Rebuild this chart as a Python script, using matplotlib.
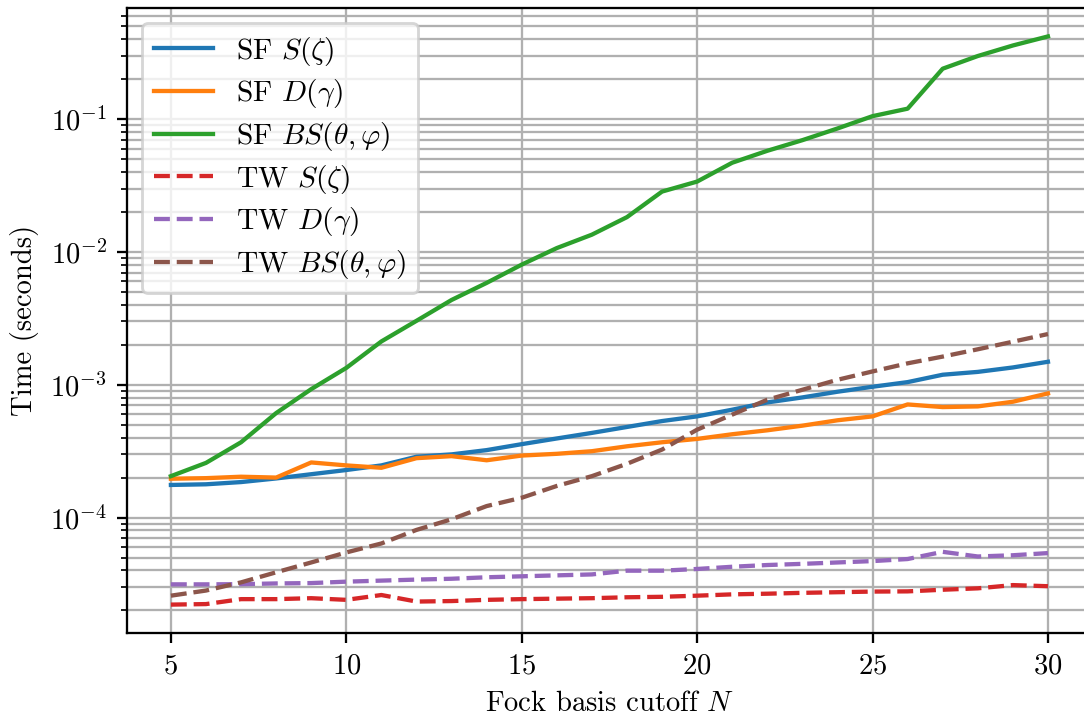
import matplotlib
matplotlib.use("Agg")
import matplotlib.pyplot as plt
import numpy as np

plt.rcParams["font.family"] = ["cmr10", "DejaVu Serif"]
plt.rcParams["mathtext.fontset"] = "cm"
plt.rcParams["axes.formatter.use_mathtext"] = True
plt.rcParams["font.size"] = 10

N = np.arange(5, 31)

sf_s = [1.76e-4, 1.78e-4, 1.85e-4, 1.97e-4, 2.12e-4, 2.28e-4, 2.47e-4, 2.87e-4, 2.99e-4,
        3.22e-4, 3.57e-4, 3.94e-4, 4.34e-4, 4.81e-4, 5.33e-4, 5.78e-4, 6.49e-4, 7.36e-4,
        8.03e-4, 8.86e-4, 9.66e-4, 1.047e-3, 1.19e-3, 1.25e-3, 1.35e-3, 1.49e-3]
sf_d = [1.96e-4, 1.98e-4, 2.03e-4, 2.00e-4, 2.60e-4, 2.47e-4, 2.37e-4, 2.80e-4, 2.90e-4,
        2.70e-4, 2.93e-4, 3.02e-4, 3.16e-4, 3.44e-4, 3.69e-4, 3.91e-4, 4.24e-4, 4.54e-4,
        4.92e-4, 5.40e-4, 5.78e-4, 7.11e-4, 6.79e-4, 6.87e-4, 7.45e-4, 8.61e-4]
sf_bs = [2.05e-4, 2.58e-4, 3.69e-4, 6.12e-4, 9.27e-4, 1.34e-3, 2.12e-3, 3.03e-3, 4.35e-3,
         5.85e-3, 8.03e-3, 1.07e-2, 1.35e-2, 1.83e-2, 2.85e-2, 3.39e-2, 4.70e-2, 5.78e-2,
         6.95e-2, 8.51e-2, 0.1054, 0.120, 0.240, 0.299, 0.359, 0.420]
tw_s = [2.21e-5, 2.23e-5, 2.43e-5, 2.43e-5, 2.47e-5, 2.40e-5, 2.61e-5, 2.33e-5, 2.35e-5,
        2.40e-5, 2.43e-5, 2.45e-5, 2.47e-5, 2.51e-5, 2.53e-5, 2.58e-5, 2.64e-5, 2.67e-5,
        2.71e-5, 2.74e-5, 2.77e-5, 2.78e-5, 2.86e-5, 2.93e-5, 3.10e-5, 3.04e-5]
tw_d = [3.14e-5, 3.14e-5, 3.15e-5, 3.19e-5, 3.21e-5, 3.29e-5, 3.35e-5, 3.41e-5, 3.46e-5,
        3.55e-5, 3.61e-5, 3.67e-5, 3.73e-5, 3.98e-5, 3.98e-5, 4.10e-5, 4.26e-5, 4.39e-5,
        4.48e-5, 4.59e-5, 4.70e-5, 4.87e-5, 5.52e-5, 5.09e-5, 5.20e-5, 5.40e-5]
tw_bs = [2.58e-5, 2.82e-5, 3.25e-5, 3.87e-5, 4.59e-5, 5.46e-5, 6.38e-5, 8.07e-5, 9.71e-5,
         1.22e-4, 1.41e-4, 1.73e-4, 2.05e-4, 2.54e-4, 3.25e-4, 4.59e-4, 5.96e-4, 7.71e-4,
         9.17e-4, 1.09e-3, 1.26e-3, 1.45e-3, 1.63e-3, 1.85e-3, 2.11e-3, 2.41e-3]

DPI = 206
fig = plt.figure(figsize=(1084 / DPI, 716 / DPI), dpi=DPI)
# right spine sits just outside the picture in the reference
ax = fig.add_axes([0.1172, 0.1159, 0.890, 0.8729])

ax.plot(N, sf_s, color="C0", lw=1.5, label=r"SF $S(\zeta)$")
ax.plot(N, sf_d, color="C1", lw=1.5, label=r"SF $D(\gamma)$")
ax.plot(N, sf_bs, color="C2", lw=1.5, label=r"SF $BS(\theta,\varphi)$")
ax.plot(N, tw_s, color="C3", lw=1.5, ls="--", label=r"TW $S(\zeta)$")
ax.plot(N, tw_d, color="C4", lw=1.5, ls="--", label=r"TW $D(\gamma)$")
ax.plot(N, tw_bs, color="C5", lw=1.5, ls="--", label=r"TW $BS(\theta,\varphi)$")

ax.set_yscale("log")
ax.grid(True, which="both")
ax.set_xlabel(r"Fock basis cutoff $N$")
ax.set_ylabel("Time (seconds)")
ax.legend(loc="upper left", labelspacing=0.33, fontsize=10.3)

fig.savefig("out.png", dpi=DPI)
